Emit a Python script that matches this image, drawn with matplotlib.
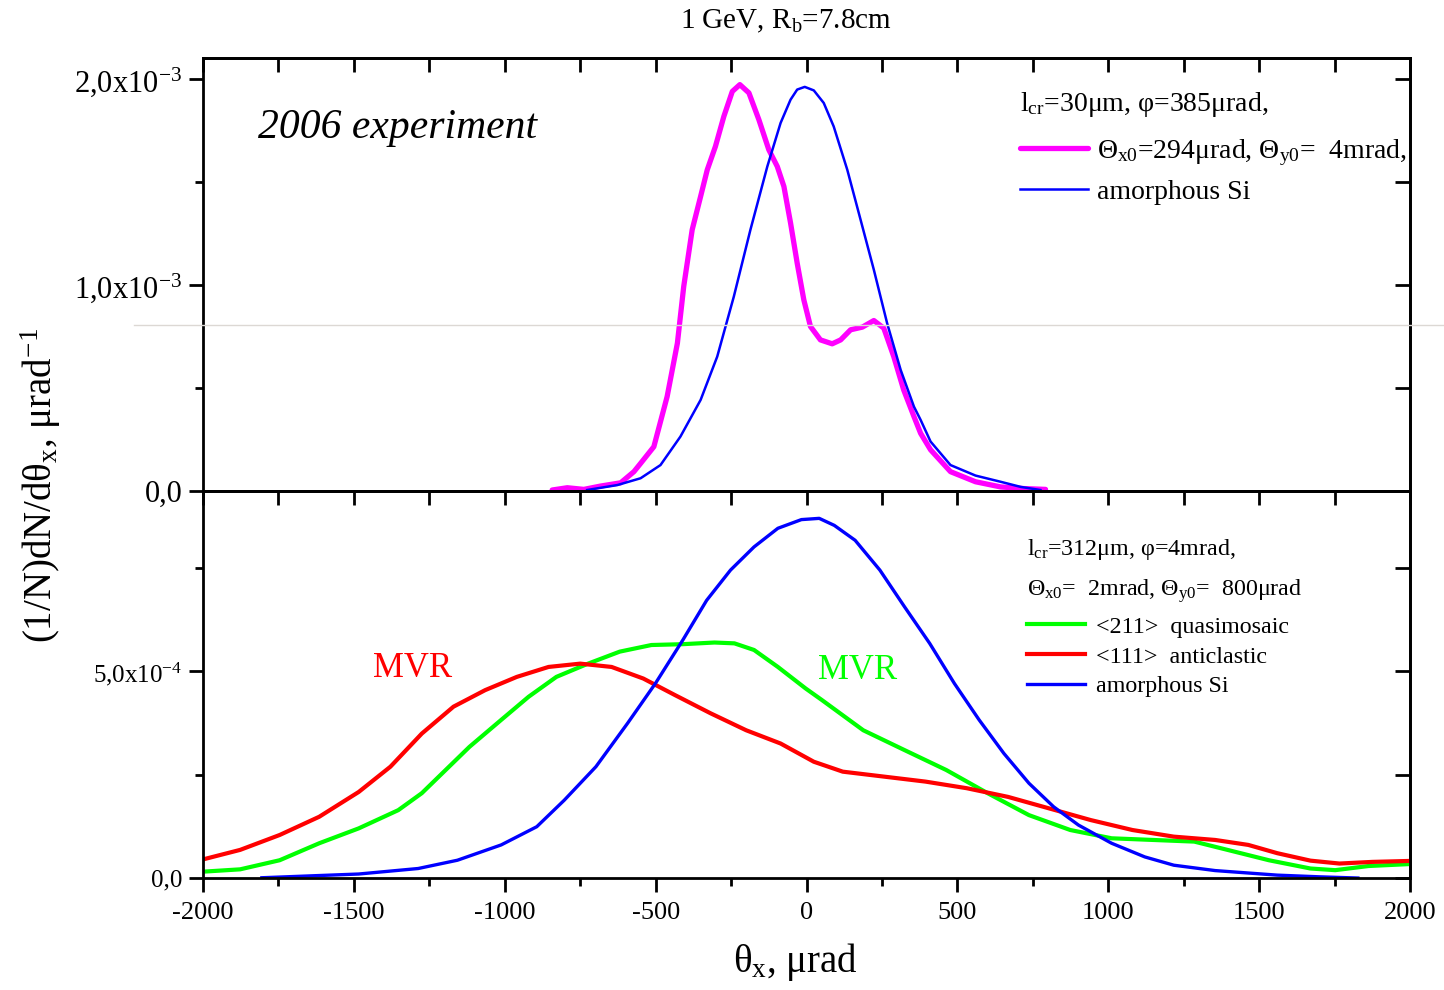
import matplotlib
matplotlib.use('Agg')

import matplotlib.pyplot as plt
from matplotlib.ticker import MultipleLocator
from matplotlib.lines import Line2D
import numpy as np

plt.rcParams['font.family'] = ['Liberation Serif', 'DejaVu Serif']
plt.rcParams['mathtext.fontset'] = 'custom'
plt.rcParams['mathtext.rm'] = 'Liberation Serif'
plt.rcParams['mathtext.it'] = 'Liberation Serif:italic'
plt.rcParams['axes.unicode_minus'] = False

# top panel: 2006 experiment, l_cr = 30 um  (values in 1e-3 / urad)
theta_cr = [-843, -793, -738, -683, -616, -572, -550, -506, -462, -428, -407, -379, -351,
            -329, -302, -274, -246, -221, -191, -158, -125, -97, -75, -53, -31, -9, 13, 46,
            85, 113, 146, 185, 223, 256, 289, 322, 356, 378, 411, 477, 560, 643, 720, 792]
f_cr = [0.005, 0.016, 0.008, 0.024, 0.040, 0.094, 0.134, 0.215, 0.458, 0.717, 0.992, 1.267,
        1.429, 1.558, 1.671, 1.817, 1.938, 1.971, 1.931, 1.801, 1.655, 1.574, 1.477, 1.300,
        1.105, 0.927, 0.798, 0.733, 0.714, 0.733, 0.782, 0.795, 0.827, 0.790, 0.652, 0.490,
        0.361, 0.280, 0.200, 0.094, 0.045, 0.020, 0.012, 0.008]
f_cr = np.array(f_cr) * 1e-3

theta_am1 = [-727, -627, -550, -484, -418, -351, -296, -241, -186, -130, -86, -53, -31, -6,
             24, 57, 90, 135, 179, 223, 267, 312, 356, 378, 411, 477, 560, 643, 710, 775]
f_am1 = [0.005, 0.029, 0.062, 0.126, 0.264, 0.442, 0.652, 0.943, 1.267, 1.574, 1.785, 1.898,
         1.947, 1.960, 1.943, 1.882, 1.768, 1.558, 1.316, 1.073, 0.814, 0.587, 0.409, 0.345,
         0.240, 0.126, 0.075, 0.045, 0.020, 0.005]
f_am1 = np.array(f_am1) * 1e-3

# bottom panel: l_cr = 312 um  (values in 1e-4 / urad)
theta_red = [-2008, -1877, -1746, -1615, -1484, -1379, -1275, -1170, -1065, -960, -855, -750,
             -646, -541, -436, -318, -200, -86, 24, 120, 257, 394, 531, 668, 805, 942, 1080,
             1217, 1354, 1464, 1560, 1670, 1766, 1875, 2035]
f_red = [0.435, 0.68, 1.04, 1.48, 2.08, 2.69, 3.49, 4.14, 4.54, 4.86, 5.10, 5.18, 5.10, 4.82,
         4.42, 3.98, 3.57, 3.25, 2.81, 2.57, 2.45, 2.33, 2.17, 1.96, 1.68, 1.40, 1.16, 1.00,
         0.92, 0.80, 0.60, 0.42, 0.35, 0.39, 0.42]
f_red = np.array(f_red) * 1e-4

theta_green = [-2008, -1877, -1746, -1615, -1484, -1353, -1275, -1196, -1117, -1012, -921,
               -829, -724, -619, -514, -410, -305, -239, -174, -95, -3, 51, 188, 325, 463, 600,
               737, 874, 1011, 1148, 1285, 1395, 1532, 1670, 1752, 1862, 2035]
f_green = [0.15, 0.21, 0.43, 0.84, 1.20, 1.64, 2.05, 2.61, 3.17, 3.82, 4.38, 4.86, 5.18, 5.47,
           5.63, 5.65, 5.69, 5.67, 5.51, 5.10, 4.58, 4.30, 3.57, 3.09, 2.61, 2.05, 1.52, 1.16,
           0.96, 0.92, 0.88, 0.68, 0.43, 0.23, 0.19, 0.29, 0.35]
f_green = np.array(f_green) * 1e-4

theta_am2 = [-1805, -1484, -1287, -1157, -1012, -894, -803, -698, -593, -501, -410, -331, -252,
             -174, -95, -17, 42, 92, 161, 243, 325, 408, 490, 572, 654, 737, 819, 901, 1011,
             1121, 1217, 1354, 1560, 1697, 1827]
f_am2 = [0.007, 0.097, 0.23, 0.43, 0.80, 1.24, 1.88, 2.69, 3.74, 4.70, 5.75, 6.71, 7.44, 8.00,
         8.45, 8.66, 8.69, 8.52, 8.16, 7.44, 6.55, 5.67, 4.70, 3.82, 3.01, 2.29, 1.72, 1.28,
         0.84, 0.51, 0.31, 0.18, 0.07, 0.03, 0.0]
f_am2 = np.array(f_am2) * 1e-4

fig = plt.figure(figsize=(14.44, 9.9), dpi=100)
ax1 = fig.add_axes([0.1406, 0.5040, 0.8359, 0.4374])
ax2 = fig.add_axes([0.1406, 0.1131, 0.8359, 0.3909])

ax1.plot(theta_cr, f_cr, color='#ff00ff', lw=3.8, solid_capstyle='round', solid_joinstyle='round',
         label='\u0398$_{\\mathrm{x0}}$=294\u03bcrad, \u0398$_{\\mathrm{y0}}$=  4mrad,')
ax1.plot(theta_am1, f_am1, color='#0000ff', lw=1.8, solid_joinstyle='round', label='amorphous Si')

ax2.plot(theta_green, f_green, color='#00ff00', lw=3.0, solid_joinstyle='round',
         label='<211>  quasimosaic')
ax2.plot(theta_red, f_red, color='#ff0000', lw=3.0, solid_joinstyle='round',
         label='<111>  anticlastic')
ax2.plot(theta_am2, f_am2, color='#0000ff', lw=2.4, solid_joinstyle='round', label='amorphous Si')

ax1.set_ylim(0, 2.1e-3)
ax2.set_ylim(0, 9.35e-4)
ax1.set_yticks([0, 1e-3, 2e-3], ['0,0', '1,0x10$^{\\mathrm{-3}}$', '2,0x10$^{\\mathrm{-3}}$'])
ax1.set_yticks([0.5e-3, 1.5e-3], minor=True)
ax2.set_yticks([0, 5e-4], ['0,0', '5,0x10$^{\\mathrm{-4}}$'])
ax2.set_yticks([2.5e-4, 7.5e-4], minor=True)

for ax, ysize in ((ax1, 22), (ax2, 18)):
    ax.set_xlim(-2000, 2000)
    ax.xaxis.set_major_locator(MultipleLocator(500))
    ax.xaxis.set_minor_locator(MultipleLocator(250))
    for s in ax.spines.values():
        s.set_linewidth(2)
    ax.tick_params(which='major', direction='out', length=10, width=2, pad=5)
    ax.tick_params(which='minor', direction='out', length=6, width=2)
    ax.tick_params(axis='y', labelsize=ysize)
    ax.tick_params(axis='x', labelsize=19, pad=7)
    top = ax.secondary_xaxis('top')
    top.set_xticks(np.arange(-2000, 2001, 250))
    top.tick_params(direction='in', length=10, width=2, labeltop=False)
    top.spines['top'].set_linewidth(2)
    right = ax.secondary_yaxis('right')
    right.set_yticks(ax.get_yticks().tolist() + ax.get_yticks(minor=True).tolist())
    right.tick_params(direction='in', length=11, width=2, labelright=False)
    right.spines['right'].set_linewidth(2)

ax1.tick_params(axis='x', which='both', bottom=False, labelbottom=False)

ax1.text(0.0456, 0.84, '2006 experiment', transform=ax1.transAxes, fontsize=30,
         style='italic', ha='left', va='center')
ax1.text(0.677, 0.892, 'l$_{\\mathrm{cr}}$=30\u03bcm, \u03c6=385\u03bcrad,',
         transform=ax1.transAxes, fontsize=20, ha='left', va='center')
ax1.legend(loc='upper left', bbox_to_anchor=(0.677, 0.817), frameon=False, fontsize=20,
           handlelength=2.45, handletextpad=0.3, labelspacing=0.4,
           borderpad=0, borderaxespad=0)

ax2.text(0.6827, 0.85, 'l$_{\\mathrm{cr}}$=312\u03bcm, \u03c6=4mrad,',
         transform=ax2.transAxes, fontsize=17.3, ha='left', va='center')
ax2.text(0.6827, 0.742, '\u0398$_{\\mathrm{x0}}$=  2mrad, \u0398$_{\\mathrm{y0}}$=  800\u03bcrad',
         transform=ax2.transAxes, fontsize=17.3, ha='left', va='center')
ax2.legend(loc='upper left', bbox_to_anchor=(0.6827, 0.677), frameon=False, fontsize=17.3,
           handlelength=2.4, handletextpad=0.45, labelspacing=0.33,
           borderpad=0, borderaxespad=0)

ax2.text(-1306, 5.07e-4, 'MVR', color='#ff0000', fontsize=25, ha='center', va='center')
ax2.text(169, 5.02e-4, 'MVR', color='#00ff00', fontsize=25, ha='center', va='center')

fig.text(0.544, 0.978, '1 GeV, R$_{\\mathrm{b}}$=7.8cm', fontsize=21, ha='center', va='center')
fig.text(0.5506, 0.028, '\u03b8$_{\\mathrm{x}}$, \u03bcrad', fontsize=28, ha='center', va='center')
fig.text(0.028, 0.51, '(1/N)dN/d\u03b8$_{\\mathrm{x}}$, \u03bcrad$^{\\mathrm{-1}}$', fontsize=28,
         rotation=90, ha='center', va='center')

# faint scan line across the page
fig.add_artist(Line2D([0.093, 1.0], [0.6717, 0.6717], color='#dcd8d4', lw=1))

fig.savefig('out.png', dpi=100)
